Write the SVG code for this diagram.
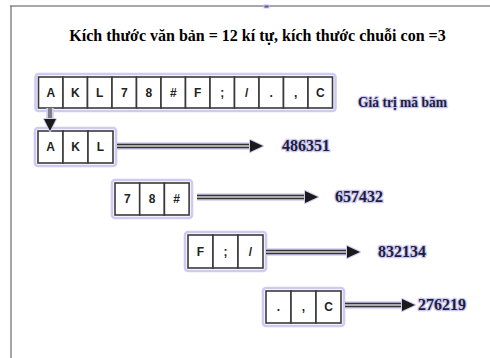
<svg xmlns="http://www.w3.org/2000/svg" width="490" height="358" viewBox="0 0 490 358">
<style>
.glow{fill:none;stroke:#cfcaf3;stroke-width:2.6}
.cell{fill:#fff;stroke:#3a3a3a;stroke-width:1.6}
.ch{font-family:"Liberation Sans",Arial,sans-serif;font-weight:bold;font-size:12px;fill:#222;text-anchor:middle}
.lbl{font-family:"Liberation Serif","Times New Roman",serif;font-weight:bold;font-size:16px;fill:#1e1e3c;stroke:#cdc8f3;stroke-width:2.6;paint-order:stroke;stroke-linejoin:round}
.shaft-g{stroke:#d0cbf3;stroke-width:7.5;fill:none}
.shaft-o{stroke:#333;stroke-width:4.5;fill:none}
.shaft-i{stroke:#d4d4d4;stroke-width:1.6;fill:none}
.head{fill:#1a1a1a;stroke:#d0cbf3;stroke-width:2;stroke-linejoin:round;paint-order:stroke}
</style>
<rect width="490" height="358" fill="#fff"/>
<g id="frame">
<line x1="10" y1="6" x2="490" y2="6" stroke="#8a8a8a" stroke-width="1.5"/>
<line x1="11" y1="6" x2="11" y2="358" stroke="#6a6a6a" stroke-width="1.2"/>
<rect x="264" y="5" width="5" height="3" fill="#4a5a9a" stroke="#c9c4f0" stroke-width="1"/>
</g>
<text id="title" x="257.5" y="41" font-family="'Liberation Serif','Times New Roman',serif" font-weight="bold" font-size="16" text-anchor="middle" fill="#000">Kích thước văn bản = 12 kí tự, kích thước chuỗi con =3</text>

<g id="text-row">
<rect class="glow" x="35.5" y="74" width="300" height="37" rx="3"/>
<rect class="cell" x="38.5" y="77" width="24.5" height="31"/><text class="ch" x="50.75" y="97">A</text>
<rect class="cell" x="63" y="77" width="24.5" height="31"/><text class="ch" x="75.25" y="97">K</text>
<rect class="cell" x="87.5" y="77" width="24.5" height="31"/><text class="ch" x="99.75" y="97">L</text>
<rect class="cell" x="112" y="77" width="24.5" height="31"/><text class="ch" x="124.25" y="97">7</text>
<rect class="cell" x="136.5" y="77" width="24.5" height="31"/><text class="ch" x="148.75" y="97">8</text>
<rect class="cell" x="161" y="77" width="24.5" height="31"/><text class="ch" x="173.25" y="97">#</text>
<rect class="cell" x="185.5" y="77" width="24.5" height="31"/><text class="ch" x="197.75" y="97">F</text>
<rect class="cell" x="210" y="77" width="24.5" height="31"/><text class="ch" x="222.25" y="97">;</text>
<rect class="cell" x="234.5" y="77" width="24.5" height="31"/><text class="ch" x="246.75" y="97">/</text>
<rect class="cell" x="259" y="77" width="24.5" height="31"/><text class="ch" x="271.25" y="97">.</text>
<rect class="cell" x="283.5" y="77" width="24.5" height="31"/><text class="ch" x="295.75" y="97">,</text>
<rect class="cell" x="308" y="77" width="24.5" height="31"/><text class="ch" x="320.25" y="97">C</text>
</g>
<text id="hash-title" class="lbl" x="358" y="107" style="font-size:15px" textLength="89" lengthAdjust="spacingAndGlyphs">Giá trị mã băm</text>

<g id="sub1">
<rect class="glow" x="35" y="128" width="81" height="38" rx="3"/>
<rect class="cell" x="38" y="131" width="25" height="32"/><text class="ch" x="50.5" y="151">A</text>
<rect class="cell" x="63" y="131" width="25" height="32"/><text class="ch" x="75.5" y="151">K</text>
<rect class="cell" x="88" y="131" width="25" height="32"/><text class="ch" x="100.5" y="151">L</text>
</g>
<g id="sub2">
<rect class="glow" x="112" y="180" width="80" height="38" rx="3"/>
<rect class="cell" x="115" y="183" width="24.7" height="32"/><text class="ch" x="127.3" y="203">7</text>
<rect class="cell" x="139.7" y="183" width="24.7" height="32"/><text class="ch" x="152" y="203">8</text>
<rect class="cell" x="164.4" y="183" width="24.7" height="32"/><text class="ch" x="176.7" y="203">#</text>
</g>
<g id="sub3">
<rect class="glow" x="185" y="232" width="81" height="39" rx="3"/>
<rect class="cell" x="188" y="235" width="25" height="33"/><text class="ch" x="200.5" y="256">F</text>
<rect class="cell" x="213" y="235" width="25" height="33"/><text class="ch" x="225.5" y="256">;</text>
<rect class="cell" x="238" y="235" width="25" height="33"/><text class="ch" x="250.5" y="256">/</text>
</g>
<g id="sub4">
<rect class="glow" x="263" y="288" width="81" height="38" rx="3"/>
<rect class="cell" x="266" y="291" width="25" height="32"/><text class="ch" x="278.5" y="311">.</text>
<rect class="cell" x="291" y="291" width="25" height="32"/><text class="ch" x="303.5" y="311">,</text>
<rect class="cell" x="316" y="291" width="25" height="32"/><text class="ch" x="328.5" y="311">C</text>
</g>

<g id="connectors">
<line x1="50" y1="108" x2="50" y2="119" class="shaft-g"/>
<line x1="50" y1="108" x2="50" y2="120" stroke="#333" stroke-width="3"/>
<line x1="50" y1="108" x2="50" y2="120" stroke="#ccc" stroke-width="1"/>
<path class="head" d="M44,119 L56,119 L50,131 Z"/>

<line x1="117" y1="146" x2="252" y2="146" class="shaft-g"/>
<line x1="117" y1="146" x2="252" y2="146" class="shaft-o"/>
<line x1="117" y1="146" x2="252" y2="146" class="shaft-i"/>
<path class="head" d="M250,140 L263,146 L250,152 Z"/>

<line x1="197" y1="197" x2="307" y2="197" class="shaft-g"/>
<line x1="197" y1="197" x2="307" y2="197" class="shaft-o"/>
<line x1="197" y1="197" x2="307" y2="197" class="shaft-i"/>
<path class="head" d="M305,191 L318,197 L305,203 Z"/>

<line x1="266" y1="252" x2="349" y2="252" class="shaft-g"/>
<line x1="266" y1="252" x2="349" y2="252" class="shaft-o"/>
<line x1="266" y1="252" x2="349" y2="252" class="shaft-i"/>
<path class="head" d="M347,246 L360,252 L347,258 Z"/>

<line x1="345" y1="305" x2="404" y2="305" class="shaft-g"/>
<line x1="345" y1="305" x2="404" y2="305" class="shaft-o"/>
<line x1="345" y1="305" x2="404" y2="305" class="shaft-i"/>
<path class="head" d="M402,299 L415,305 L402,311 Z"/>
</g>

<text id="h1" class="lbl" x="282" y="151">486351</text>
<text id="h2" class="lbl" x="335" y="202">657432</text>
<text id="h3" class="lbl" x="378" y="257">832134</text>
<text id="h4" class="lbl" x="418" y="310">276219</text>
</svg>
